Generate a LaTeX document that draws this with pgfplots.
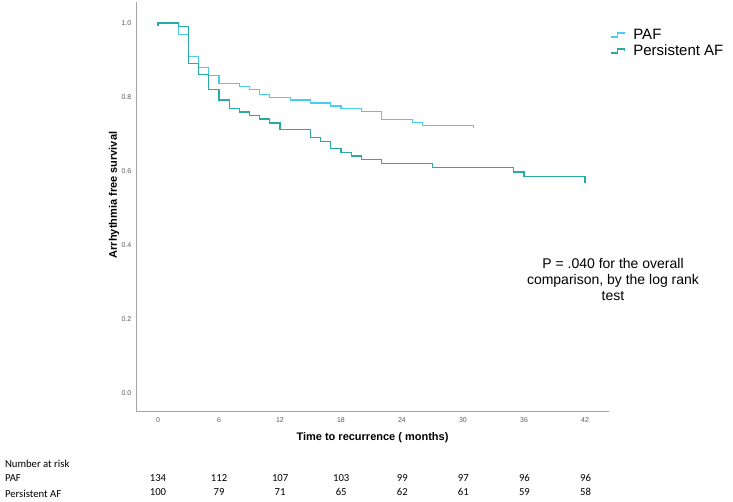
\documentclass[border=0pt]{standalone}
\usepackage{fontspec}
\setmainfont{Liberation Sans}
\newfontfamily\carlito{Carlito}
\usepackage{pgfplots}
\pgfplotsset{compat=1.18}
\definecolor{pafc}{RGB}{72,204,240}
\definecolor{perc}{RGB}{40,170,165}
\definecolor{axc}{RGB}{165,165,165}
\definecolor{tickc}{RGB}{90,90,90}
\begin{document}
\begin{tikzpicture}[x=1pt,y=1pt]
\useasboundingbox (0,0) rectangle (733,502);
\begin{axis}[at={(136pt,90.3pt)}, anchor=south west, scale only axis,
  width=473pt, height=409.7pt,
  xmin=-2.161, xmax=44.36, ymin=-0.049, ymax=1.0567,
  axis x line*=bottom, axis y line*=left,
  axis line style={draw=axc, line width=1pt, -},
  xtick={0,6,...,42}, ytick={0,0.2,0.4,0.6,0.8,1.0},
  major tick length=0pt,
  /pgf/number format/assume math mode=true,
  tick label style={font=\fontsize{7}{8}\selectfont, text=tickc},
  y tick label style={/pgf/number format/fixed, /pgf/number format/fixed zerofill, /pgf/number format/precision=1, anchor=center, xshift=-9.6pt},
  x tick label style={anchor=center, yshift=-8.5pt},
  clip=false,
  legend style={draw=none, fill=none, at={(axis description cs:1.002,0.937)}, anchor=north west,
    inner sep=0pt, font=\fontsize{15}{16}\selectfont, row sep=2pt, column sep=7pt,
    nodes={inner sep=1pt}},
  legend cell align=left,
  legend image code/.code={\draw[#1] (0pt,-2pt) -- (7pt,-2pt) -- (7pt,2pt) -- (14pt,2pt) -- (14pt,0.5pt);},
]
\addplot[const plot, pafc, line width=1.2pt] coordinates {
(0,0.993)(0,1)(2,0.97)(3,0.91)(4,0.88)(5,0.858)(6,0.836)(8,0.829)(9,0.821)(10,0.807)
(11,0.799)(13,0.792)(15,0.784)(17,0.776)(18,0.769)(20,0.762)(22,0.739)(25,0.732)(26,0.724)
(31,0.724)(31,0.716)};
\addlegendentry{PAF}
\addplot[const plot, perc, line width=1.2pt] coordinates {
(0,0.993)(0,1)(2,0.99)(3,0.89)(4,0.86)(5,0.82)(6,0.792)(7,0.77)(8,0.76)(9,0.75)(10,0.741)
(11,0.73)(12,0.712)(15,0.692)(16,0.681)(17,0.661)(18,0.651)(19,0.641)(20,0.632)(22,0.621)
(27,0.611)(35,0.598)(36,0.585)(42,0.585)(42,0.567)};
\addlegendentry{Persistent AF}
\end{axis}
\node[align=center, font=\fontsize{14}{16.2}\selectfont] at (613,222.5) {P = .040 for the overall\\comparison, by the log rank\\test};
\node[rotate=90, font=\bfseries\fontsize{11}{12}\selectfont] at (114,307) {Arrhythmia free survival};
\node[font=\bfseries\fontsize{11}{12}\selectfont] at (372.5,64) {Time to recurrence ( months)};
\node[anchor=west, font=\carlito\fontsize{10.7}{12}\selectfont] at (1.5,38) {Number at risk};
\node[anchor=west, font=\carlito\fontsize{10.7}{12}\selectfont] at (1.5,24) {PAF};
\node[anchor=west, font=\carlito\fontsize{10.7}{12}\selectfont] at (1.5,8.5) {Persistent AF};
\foreach \v [count=\i from 0] in {134,112,107,103,99,97,96,96}
  \node[font=\carlito\fontsize{10.7}{12}\selectfont] at (158+61.07*\i,24.3) {\v};
\foreach \v [count=\i from 0] in {100,79,71,65,62,61,59,58}
  \node[font=\carlito\fontsize{10.7}{12}\selectfont] at (158+61.07*\i,9.8) {\v};
\end{tikzpicture}
\end{document}
